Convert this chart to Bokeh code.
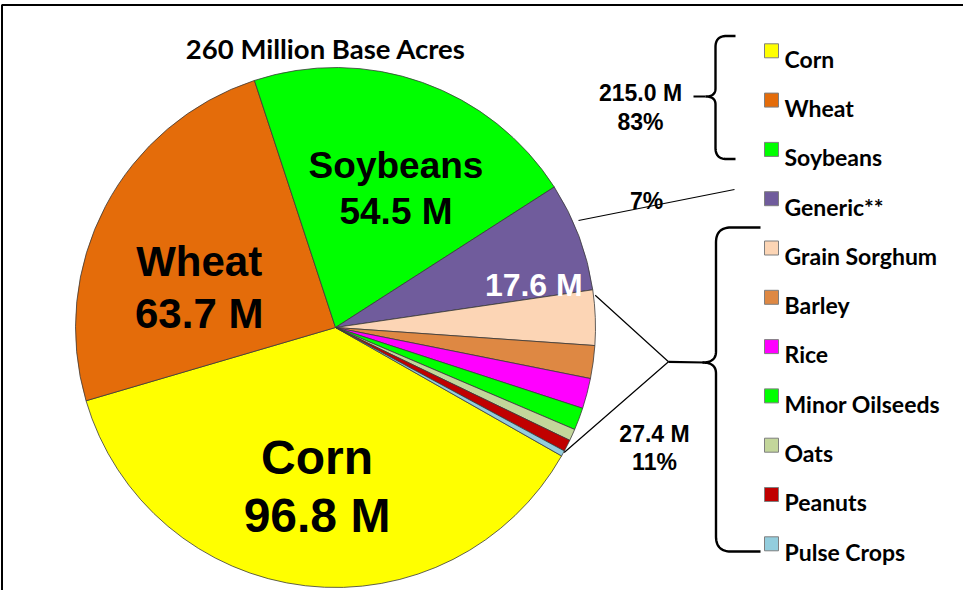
import numpy as np
from bokeh.plotting import figure
from bokeh.models import Range1d, ColumnDataSource
from bokeh.core.properties import value
from bokeh.embed import file_html
from bokeh.resources import INLINE

# ---------------- data ----------------
crops = ["Corn", "Wheat", "Soybeans", "Generic**", "Grain Sorghum", "Barley",
         "Rice", "Minor Oilseeds", "Oats", "Peanuts", "Pulse Crops"]
acres = [96.8, 63.7, 54.5, 17.6, 8.9, 5.3, 4.9, 3.6, 1.9, 1.9, 0.9]
colors = ["#FFFF00", "#E46C0A", "#00FF00", "#705C9C", "#FCD5B5", "#DE8843",
          "#FF00FF", "#00FF00", "#C3D69B", "#C00000", "#93CDDD"]
title_text = "260 Million Base Acres"
major_n = 3        # corn, wheat, soybeans
generic_idx = 3    # generic
# --------------------------------------

W, H = 963, 590
TOP = 606  # image y -> data y helper


def Y(y):
    return TOP - np.asarray(y, dtype=float)


p = figure(width=W, height=H, output_backend="svg", toolbar_location=None,
           x_range=Range1d(8, 8 + W), y_range=Range1d(8, 8 + H),
           x_axis_type=None, y_axis_type=None, min_border=0)
p.outline_line_color = None
p.grid.visible = False
p.background_fill_color = "white"

# frame border (runs off right/bottom)
p.line([9.5, 9.5, 990], Y([620, 12.5, 12.5]), line_color="black", line_width=2)

# ---------------- pie ----------------
cx, cy, R = 343, 335, 260
total = sum(acres)
a0 = np.deg2rad(-29.6)
vals = np.array(acres)
cum = np.concatenate([[0], np.cumsum(vals)])
k = 2 * np.pi / total
starts = a0 - cum[:-1] * k
ends = a0 - cum[1:] * k
src = ColumnDataSource(dict(start=starts, end=ends, color=colors, crop=crops))
p.wedge(x=cx, y=Y(cy), radius=R, start_angle="start", end_angle="end",
        direction="clock", fill_color="color", line_color="#3a3a3a",
        line_width=0.8, source=src)

ARIAL = value("Liberation Sans")
LATO = value("Lato")

# slice labels
lab_x = [324.5, 206.7, 403.5]
lab_y1 = [465, 269.3, 172.7]
lab_y2 = [523, 321, 219.3]
lab_size = ["48px", "42px", "37px"]
for i in range(major_n):
    p.text(x=[lab_x[i]], y=Y([lab_y1[i]]), text=[crops[i]], text_font=ARIAL,
           text_font_style="bold", text_font_size=lab_size[i],
           text_align="center", text_baseline="alphabetic", text_color="black")
    p.text(x=[lab_x[i]], y=Y([lab_y2[i]]), text=[f"{acres[i]:.1f} M"],
           text_font=ARIAL, text_font_style="bold", text_font_size=lab_size[i],
           text_align="center", text_baseline="alphabetic", text_color="black")
p.text(x=[541.3], y=Y([292.3]), text=[f"{acres[generic_idx]:.1f} M"],
       text_font=ARIAL, text_font_style="bold", text_font_size="32px",
       text_align="center", text_baseline="alphabetic", text_color="white")

# title
p.text(x=[333.3], y=Y([55.7]), text=[title_text], text_font=LATO,
       text_font_style="bold", text_font_size="27.5px", text_align="center",
       text_baseline="alphabetic", text_color="black")

# group annotations
major_sum = sum(acres[:major_n])
other_sum = sum(acres[generic_idx + 1:])
gen = acres[generic_idx]
pct = lambda v: f"{int(np.floor(v / total * 100 + 0.5))}%"
ann = [
    (648, 100, f"{major_sum:.1f} M"), (648, 129.3, pct(major_sum)),
    (654, 208.3, pct(gen)),
    (662, 441.7, f"{other_sum:.1f} M"), (662, 469.3, pct(other_sum)),
]
for ax, ay, t in ann:
    p.text(x=[ax], y=Y([ay]), text=[t], text_font=ARIAL, text_font_style="bold",
           text_font_size="23px", text_align="center",
           text_baseline="alphabetic", text_color="black")

# pointer lines
p.line([586, 742], Y([228, 197]), line_color="black", line_width=1.2)
p.line([602.7, 676, 571.7], Y([302.7, 369.3, 460]), line_color="black",
       line_width=1.2)
p.line([676, 712], Y([369.3, 370]), line_color="black", line_width=2.2)
p.line([701, 713], Y([104, 104]), line_color="black", line_width=2.2)


def quad(p0, c, p1, n=16):
    t = np.linspace(0, 1, n)[:, None]
    p0, c, p1 = map(np.asarray, (p0, c, p1))
    return (1 - t) ** 2 * p0 + 2 * (1 - t) * t * c + t ** 2 * p1


def brace(xv, ytop, ytip, ybot, xend, xtip, rr, r2):
    pts = [np.array([[xend, ytop]])]
    pts.append(quad((xv + rr, ytop), (xv, ytop), (xv, ytop + rr)))
    pts.append(quad((xv, ytip - r2), (xv, ytip), (xtip, ytip)))
    pts.append(quad((xtip, ytip), (xv, ytip), (xv, ytip + r2)))
    pts.append(quad((xv, ybot - rr), (xv, ybot), (xv + rr, ybot)))
    pts.append(np.array([[xend, ybot]]))
    a = np.vstack(pts)
    return a[:, 0], a[:, 1]


bx, by = brace(723, 43.5, 104, 166.5, 743, 713, 11, 8)
p.line(bx, Y(by), line_color="black", line_width=2.4)
bx, by = brace(723.5, 235, 370, 559, 768, 710, 15, 11)
p.line(bx, Y(by), line_color="black", line_width=2.4)

# legend
leg_y0, leg_step = 58.3, 49.3
leg_y = [leg_y0 + i * leg_step for i in range(len(crops))]
lsrc = ColumnDataSource(dict(x=[779] * len(crops), y=Y(leg_y), c=colors,
                             ty=Y(np.array(leg_y) + 7.8), t=crops,
                             tx=[792] * len(crops)))
p.rect(x="x", y="y", width=14, height=14, fill_color="c", line_color="#7F7F7F",
       line_width=1, source=lsrc)
p.text(x="tx", y="ty", text="t", text_font=LATO, text_font_style="bold",
       text_font_size="23px", text_align="left", text_baseline="alphabetic",
       text_color="black", source=lsrc)

open("out.html", "w").write(file_html(p, INLINE))
